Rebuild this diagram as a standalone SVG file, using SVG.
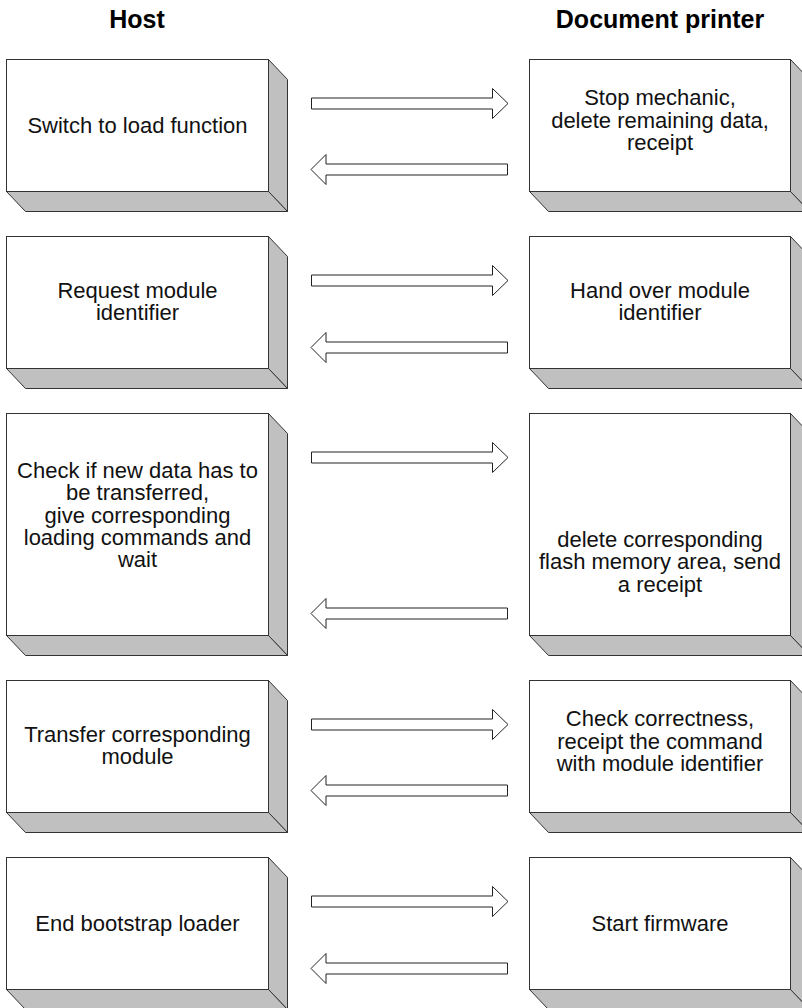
<svg xmlns="http://www.w3.org/2000/svg" width="802" height="1008" viewBox="0 0 802 1008">
  <style>
    .front { fill: #ffffff; stroke: #333333; stroke-width: 1; }
    .side { fill: #c0c0c0; stroke: #333333; stroke-width: 1; stroke-linejoin: miter; }
    .arrow { fill: #ffffff; stroke: #222222; stroke-width: 1; }
    .lbl { font-family: "Liberation Sans", Arial, sans-serif; font-size: 22px; fill: #111111; text-anchor: middle; }
    .head { font-family: "Liberation Sans", Arial, sans-serif; font-size: 25px; font-weight: bold; fill: #000000; text-anchor: middle; }
  </style>
  <defs>
    <!-- block arrows, origin at left end / vertical centre -->
    <polygon id="arrow-right" class="arrow" points="0,-5.5 181,-5.5 181,-15 196.5,0 181,15 181,5.5 0,5.5"/>
    <polygon id="arrow-left" class="arrow" points="0,0 15,-15 15,-5.5 196.5,-5.5 196.5,5.5 15,5.5 15,15"/>
  </defs>

  <rect width="802" height="1008" fill="#ffffff"/>

  <!-- column headings -->
  <text class="head" x="137" y="28">Host</text>
  <text class="head" x="660" y="28">Document printer</text>

  <!-- Host column -->
  <g id="host-switch" transform="translate(6.5,59.5)">
    <polygon class="side" points="262,0 281,20 281,152 262,132"/>
    <polygon class="side" points="0,132 262,132 281,152 19,152"/>
    <rect class="front" x="0" y="0" width="262" height="132"/>
    <text class="lbl" x="131" y="73.5">Switch to load function</text>
  </g>

  <g id="host-request" transform="translate(6.5,236.5)">
    <polygon class="side" points="262,0 281,20 281,152 262,132"/>
    <polygon class="side" points="0,132 262,132 281,152 19,152"/>
    <rect class="front" x="0" y="0" width="262" height="132"/>
    <text class="lbl" x="131" y="61">Request module</text>
    <text class="lbl" x="131" y="83.5">identifier</text>
  </g>

  <g id="host-check" transform="translate(6.5,413.5)">
    <polygon class="side" points="262,0 281,20 281,242 262,222"/>
    <polygon class="side" points="0,222 262,222 281,242 19,242"/>
    <rect class="front" x="0" y="0" width="262" height="222"/>
    <text class="lbl" x="131" y="64">Check if new data has to</text>
    <text class="lbl" x="131" y="86.5">be transferred,</text>
    <text class="lbl" x="131" y="109">give corresponding</text>
    <text class="lbl" x="131" y="131">loading commands and</text>
    <text class="lbl" x="131" y="153">wait</text>
  </g>

  <g id="host-transfer" transform="translate(6.5,680.5)">
    <polygon class="side" points="262,0 281,20 281,152 262,132"/>
    <polygon class="side" points="0,132 262,132 281,152 19,152"/>
    <rect class="front" x="0" y="0" width="262" height="132"/>
    <text class="lbl" x="131" y="61">Transfer corresponding</text>
    <text class="lbl" x="131" y="83.5">module</text>
  </g>

  <g id="host-end" transform="translate(6.5,857.5)">
    <polygon class="side" points="262,0 281,20 281,152 262,132"/>
    <polygon class="side" points="0,132 262,132 281,152 19,152"/>
    <rect class="front" x="0" y="0" width="262" height="132"/>
    <text class="lbl" x="131" y="73.5">End bootstrap loader</text>
  </g>

  <!-- Document printer column -->
  <g id="printer-stop" transform="translate(529.5,59.5)">
    <polygon class="side" points="261,0 280,20 280,152 261,132"/>
    <polygon class="side" points="0,132 261,132 280,152 19,152"/>
    <rect class="front" x="0" y="0" width="261" height="132"/>
    <text class="lbl" x="130.5" y="45.5">Stop mechanic,</text>
    <text class="lbl" x="130.5" y="68">delete remaining data,</text>
    <text class="lbl" x="130.5" y="90.5">receipt</text>
  </g>

  <g id="printer-handover" transform="translate(529.5,236.5)">
    <polygon class="side" points="261,0 280,20 280,152 261,132"/>
    <polygon class="side" points="0,132 261,132 280,152 19,152"/>
    <rect class="front" x="0" y="0" width="261" height="132"/>
    <text class="lbl" x="130.5" y="61">Hand over module</text>
    <text class="lbl" x="130.5" y="83.5">identifier</text>
  </g>

  <g id="printer-delete" transform="translate(529.5,413.5)">
    <polygon class="side" points="261,0 280,20 280,242 261,222"/>
    <polygon class="side" points="0,222 261,222 280,242 19,242"/>
    <rect class="front" x="0" y="0" width="261" height="222"/>
    <text class="lbl" x="130.5" y="133">delete corresponding</text>
    <text class="lbl" x="130.5" y="155.5">flash memory area, send</text>
    <text class="lbl" x="130.5" y="178">a receipt</text>
  </g>

  <g id="printer-checkcorrect" transform="translate(529.5,680.5)">
    <polygon class="side" points="261,0 280,20 280,152 261,132"/>
    <polygon class="side" points="0,132 261,132 280,152 19,152"/>
    <rect class="front" x="0" y="0" width="261" height="132"/>
    <text class="lbl" x="130.5" y="45.5">Check correctness,</text>
    <text class="lbl" x="130.5" y="68">receipt the command</text>
    <text class="lbl" x="130.5" y="90.5">with module identifier</text>
  </g>

  <g id="printer-firmware" transform="translate(529.5,857.5)">
    <polygon class="side" points="261,0 280,20 280,152 261,132"/>
    <polygon class="side" points="0,132 261,132 280,152 19,152"/>
    <rect class="front" x="0" y="0" width="261" height="132"/>
    <text class="lbl" x="130.5" y="73.5">Start firmware</text>
  </g>

  <!-- message arrows between host and printer -->
  <g id="connectors">
    <use href="#arrow-right" transform="translate(311.5,103.5)"/>
    <use href="#arrow-left" transform="translate(311,169.5)"/>
    <use href="#arrow-right" transform="translate(311.5,280.5)"/>
    <use href="#arrow-left" transform="translate(311,347.5)"/>
    <use href="#arrow-right" transform="translate(311.5,457.5)"/>
    <use href="#arrow-left" transform="translate(311,613.5)"/>
    <use href="#arrow-right" transform="translate(311.5,724.5)"/>
    <use href="#arrow-left" transform="translate(311,790.5)"/>
    <use href="#arrow-right" transform="translate(311.5,901.5)"/>
    <use href="#arrow-left" transform="translate(311,968.5)"/>
  </g>
</svg>
